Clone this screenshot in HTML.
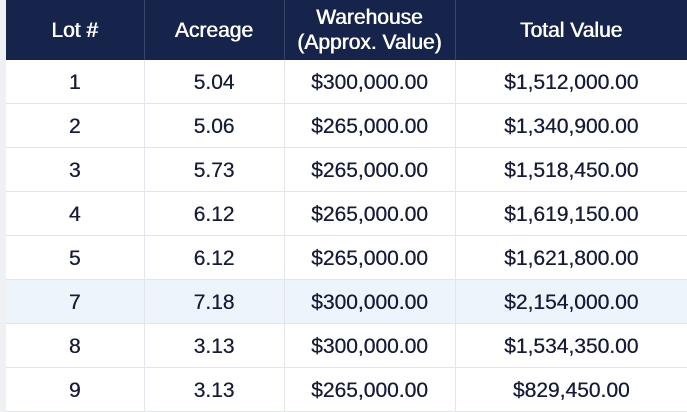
<!DOCTYPE html>
<html><head><meta charset="utf-8"><style>
html,body{margin:0;padding:0;width:687px;height:411px;overflow:hidden;background:#eef0f4;font-family:"Liberation Sans",sans-serif;}
table{position:absolute;left:6px;top:0;width:681px;border-collapse:collapse;table-layout:fixed;background:#fff;}
th{background:#16234a;color:#fff;font-weight:normal;font-size:21px;height:60px;line-height:25px;border-right:1.5px solid #3a4668;padding:0;text-shadow:0.4px 0 0 #fff,-0.2px 0 0 #fff;}
td{height:40px;border-bottom:1.5px solid #e3e5ec;border-right:1.5px solid #e3e5ec;text-align:center;font-size:21px;color:#161c38;padding:3px 0 0 0;box-sizing:content-box;text-shadow:0.3px 0 0 #161c38;}
tr.hl td{background:#eef4fb;}
th:last-child,td:last-child{border-right:none;}
</style></head><body>
<table>
<colgroup><col style="width:138px"><col style="width:140px"><col style="width:171px"><col style="width:232px"></colgroup>
<tr><th>Lot #</th><th>Acreage</th><th>Warehouse<br>(Approx. Value)</th><th>Total Value</th></tr>
<tr><td>1</td><td>5.04</td><td>$300,000.00</td><td>$1,512,000.00</td></tr>
<tr><td>2</td><td>5.06</td><td>$265,000.00</td><td>$1,340,900.00</td></tr>
<tr><td>3</td><td>5.73</td><td>$265,000.00</td><td>$1,518,450.00</td></tr>
<tr><td>4</td><td>6.12</td><td>$265,000.00</td><td>$1,619,150.00</td></tr>
<tr><td>5</td><td>6.12</td><td>$265,000.00</td><td>$1,621,800.00</td></tr>
<tr class="hl"><td>7</td><td>7.18</td><td>$300,000.00</td><td>$2,154,000.00</td></tr>
<tr><td>8</td><td>3.13</td><td>$300,000.00</td><td>$1,534,350.00</td></tr>
<tr><td>9</td><td>3.13</td><td>$265,000.00</td><td>$829,450.00</td></tr>
</table>
</body></html>
